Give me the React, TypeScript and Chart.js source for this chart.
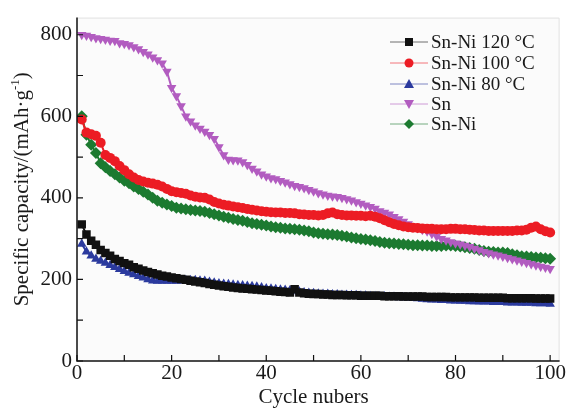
import React, { useEffect, useRef } from 'react';
import { Chart, registerables } from 'chart.js';
Chart.register(...registerables);

const cycles = [1,2,3,4,5,6,7,8,9,10,11,12,13,14,15,16,17,18,19,20,21,22,23,24,25,26,27,28,29,30,31,32,33,34,35,36,37,38,39,40,41,42,43,44,45,46,47,48,49,50,51,52,53,54,55,56,57,58,59,60,61,62,63,64,65,66,67,68,69,70,71,72,73,74,75,76,77,78,79,80,81,82,83,84,85,86,87,88,89,90,91,92,93,94,95,96,97,98,99,100];

const snNi120 = [335,310,295,285,272,265,258,250,245,240,236,230,226,222,218,215,212,209,207,205,203,201,199,197,195,193,191,189,187,185,183,182,180,179,178,177,176,175,174,173,172,171,170,169,168,176,168,166,165,164,164,163,163,162,162,162,161,161,161,160,160,160,160,160,159,159,159,159,158,158,158,158,158,157,157,157,157,157,156,156,156,156,156,156,155,155,155,155,155,155,154,154,154,154,154,154,153,153,153,153];

const snNi100 = [592,560,556,552,535,505,498,490,478,468,458,450,444,440,437,435,432,428,422,416,414,412,410,406,403,401,400,396,390,386,383,381,379,377,375,373,371,369,367,366,365,364,364,363,363,362,360,359,358,358,357,358,362,364,360,358,357,357,356,356,355,356,354,350,345,340,336,333,330,328,327,326,325,324,324,323,323,323,324,324,323,323,322,321,320,320,319,319,319,319,319,319,320,320,322,327,330,323,318,315];

const snNi80 = [287,268,258,250,245,240,235,230,225,220,216,212,208,204,200,197,196,196,196,196,196,197,198,198,198,197,196,194,192,190,189,188,187,186,185,184,183,182,180,178,177,176,175,174,173,172,170,168,167,166,165,164,164,163,163,162,162,161,161,160,160,159,159,158,158,157,157,156,156,155,154,153,152,151,150,150,149,149,148,148,147,147,146,146,145,145,145,144,144,144,143,143,143,142,142,142,141,141,141,140];

const sn = [800,798,795,792,790,788,786,785,780,778,775,770,765,758,752,745,738,730,710,670,650,625,600,588,578,570,563,555,545,525,505,494,493,492,488,481,472,465,458,453,449,446,442,438,434,430,427,424,420,416,412,409,406,404,403,400,397,394,390,386,382,378,374,368,364,360,354,348,342,336,330,326,322,318,312,306,300,296,292,289,286,283,280,276,272,268,265,262,259,256,253,250,247,244,241,238,235,232,229,226];

const snNi = [600,555,530,510,485,475,466,458,450,442,436,428,422,415,408,400,393,388,384,380,376,374,372,370,369,368,366,363,360,357,354,351,348,346,344,341,338,336,334,332,330,328,327,325,324,323,322,320,318,315,313,312,311,310,309,307,305,303,301,299,298,296,294,292,290,289,288,287,286,285,284,284,283,283,282,282,282,283,283,282,281,279,277,275,272,270,268,267,266,266,265,262,259,257,256,255,254,253,252,251];

const seriesNames = ['Sn-Ni 120 °C', 'Sn-Ni 100 °C', 'Sn-Ni 80 °C', 'Sn', 'Sn-Ni'];
const seriesColors = ['#111111', '#ec1c24', '#2b3a9e', '#b25cc0', '#1c7a30'];
const xTicks = [0, 20, 40, 60, 80, 100];
const xMinorTicks = [10, 30, 50, 70, 90];
const yTicks = [0, 200, 400, 600, 800];
const yMinorTicks = [100, 300, 500, 700];
const xTitle = 'Cycle nubers';
const yTitleMain = 'Specific capacity/(mAh·g';
const yTitleSup = '-1';
const yTitleEnd = ')';

const FONT = '"Liberation Serif", "Times New Roman", serif';

function drawMarker(ctx: CanvasRenderingContext2D, kind: string, x: number, y: number, color: string) {
  ctx.save();
  ctx.fillStyle = color;
  ctx.beginPath();
  if (kind === 'rect') {
    ctx.rect(x - 4, y - 4, 8, 8);
  } else if (kind === 'circle') {
    ctx.arc(x, y, 4.5, 0, Math.PI * 2);
  } else if (kind === 'tri') {
    ctx.moveTo(x, y - 5);
    ctx.lineTo(x + 5, y + 4);
    ctx.lineTo(x - 5, y + 4);
    ctx.closePath();
  } else if (kind === 'invtri') {
    ctx.moveTo(x, y + 5);
    ctx.lineTo(x + 5, y - 4);
    ctx.lineTo(x - 5, y - 4);
    ctx.closePath();
  } else {
    ctx.moveTo(x, y - 5);
    ctx.lineTo(x + 5, y);
    ctx.lineTo(x, y + 5);
    ctx.lineTo(x - 5, y);
    ctx.closePath();
  }
  ctx.fill();
  ctx.restore();
}

const decorPlugin = {
  id: 'decor',
  beforeDraw(chart: any) {
    const { ctx, chartArea: a } = chart;
    ctx.save();
    ctx.fillStyle = '#ffffff';
    ctx.fillRect(0, 0, chart.width, chart.height);
    ctx.fillStyle = '#fbfbfb';
    ctx.fillRect(a.left, a.top, a.right - a.left, a.bottom - a.top);
    ctx.strokeStyle = '#e2e2e2';
    ctx.lineWidth = 1;
    ctx.beginPath();
    ctx.moveTo(a.left, a.top + 0.5);
    ctx.lineTo(a.right - 0.5, a.top + 0.5);
    ctx.lineTo(a.right - 0.5, a.bottom);
    ctx.stroke();
    ctx.restore();
  },
  afterDatasetsDraw(chart: any) {
    const { ctx, chartArea: a, scales } = chart;
    const xs = scales.x;
    const ys = scales.y;
    ctx.save();
    ctx.strokeStyle = '#111';
    ctx.lineWidth = 1.5;
    ctx.beginPath();
    ctx.moveTo(a.left, a.top);
    ctx.lineTo(a.left, a.bottom);
    ctx.lineTo(a.right, a.bottom);
    ctx.stroke();
    ctx.lineWidth = 1.2;
    ctx.beginPath();
    [...xTicks, ...xMinorTicks].forEach((v) => {
      const px = xs.getPixelForValue(v);
      ctx.moveTo(px, a.bottom);
      ctx.lineTo(px, a.bottom - 6);
    });
    [...yTicks, ...yMinorTicks].forEach((v) => {
      const py = ys.getPixelForValue(v);
      ctx.moveTo(a.left, py);
      ctx.lineTo(a.left + 6, py);
    });
    ctx.stroke();

    ctx.fillStyle = '#1a1a1a';
    ctx.font = `21px ${FONT}`;
    ctx.textAlign = 'center';
    ctx.textBaseline = 'alphabetic';
    ctx.fillText(xTitle, (xs.getPixelForValue(0) + xs.getPixelForValue(100)) / 2, 403);

    ctx.save();
    ctx.translate(28, (a.top + a.bottom) / 2);
    ctx.rotate(-Math.PI / 2);
    ctx.textAlign = 'left';
    ctx.font = `21px ${FONT}`;
    const w1 = ctx.measureText(yTitleMain).width;
    const w3 = ctx.measureText(yTitleEnd).width;
    ctx.font = `13px ${FONT}`;
    const w2 = ctx.measureText(yTitleSup).width;
    let sx = -(w1 + w2 + w3) / 2;
    ctx.font = `21px ${FONT}`;
    ctx.fillText(yTitleMain, sx, 0);
    sx += w1;
    ctx.font = `13px ${FONT}`;
    ctx.fillText(yTitleSup, sx, -9);
    sx += w2;
    ctx.font = `21px ${FONT}`;
    ctx.fillText(yTitleEnd, sx, 0);
    ctx.restore();

    const kinds = ['rect', 'circle', 'tri', 'invtri', 'diamond'];
    const rows = [42, 63, 84, 104, 124];
    ctx.font = `19px ${FONT}`;
    ctx.textAlign = 'left';
    ctx.textBaseline = 'middle';
    seriesNames.forEach((name, i) => {
      const y = rows[i];
      ctx.strokeStyle = seriesColors[i];
      ctx.globalAlpha = 0.6;
      ctx.lineWidth = 1;
      ctx.beginPath();
      ctx.moveTo(390, y);
      ctx.lineTo(428, y);
      ctx.stroke();
      ctx.globalAlpha = 1;
      drawMarker(ctx, kinds[i], 409, y, seriesColors[i]);
      ctx.fillStyle = '#1a1a1a';
      ctx.fillText(name, 431, y + 1);
    });
    ctx.restore();
  },
};

export default function App() {
  const ref = useRef<HTMLCanvasElement | null>(null);
  useEffect(() => {
    document.body.style.margin = '0';
    const canvas = ref.current;
    if (!canvas) return;
    const allValues = [snNi120, snNi100, snNi80, sn, snNi];
    const styles: any[] = [
      { pointStyle: 'rect', pointRadius: 6, rotation: 0 },
      { pointStyle: 'circle', pointRadius: 5, rotation: 0 },
      { pointStyle: 'triangle', pointRadius: 5.5, rotation: 0 },
      { pointStyle: 'triangle', pointRadius: 5.5, rotation: 180 },
      { pointStyle: 'rectRot', pointRadius: 6, rotation: 0 },
    ];
    const datasets = allValues.map((vals, i) => ({
      label: seriesNames[i],
      data: cycles.map((c, j) => ({ x: c, y: vals[j] })),
      borderColor: seriesColors[i],
      backgroundColor: seriesColors[i],
      borderWidth: 2,
      pointStyle: styles[i].pointStyle,
      pointRadius: styles[i].pointRadius,
      pointRotation: styles[i].rotation,
      pointBorderWidth: 0,
      pointBackgroundColor: seriesColors[i],
      tension: 0,
    }));
    const chart = new Chart(canvas, {
      type: 'line',
      data: { datasets },
      options: {
        animation: false,
        responsive: false,
        devicePixelRatio: 1,
        layout: { padding: { top: 15, right: 6, left: 0, bottom: 0 } },
        plugins: { legend: { display: false }, tooltip: { enabled: false } },
        scales: {
          x: {
            type: 'linear',
            min: 0,
            max: 102,
            grid: { display: false, drawTicks: false },
            border: { display: false },
            ticks: { font: { family: FONT, size: 21 }, color: '#1a1a1a', padding: 0, maxRotation: 0, autoSkip: false },
            afterBuildTicks: (s: any) => { s.ticks = xTicks.map((v) => ({ value: v })); },
            afterFit: (s: any) => { s.height = 48; },
          },
          y: {
            type: 'linear',
            min: 0,
            max: 842,
            grid: { display: false, drawTicks: false },
            border: { display: false },
            ticks: { font: { family: FONT, size: 21 }, color: '#1a1a1a', padding: 5, autoSkip: false },
            afterBuildTicks: (s: any) => { s.ticks = yTicks.map((v) => ({ value: v })); },
            afterFit: (s: any) => { s.width = 77; },
          },
        },
      } as any,
      plugins: [decorPlugin],
    });
    return () => chart.destroy();
  }, []);
  return (
    <div style={{ width: 566, height: 409 }}>
      <canvas ref={ref} width={566} height={409} />
    </div>
  );
}
